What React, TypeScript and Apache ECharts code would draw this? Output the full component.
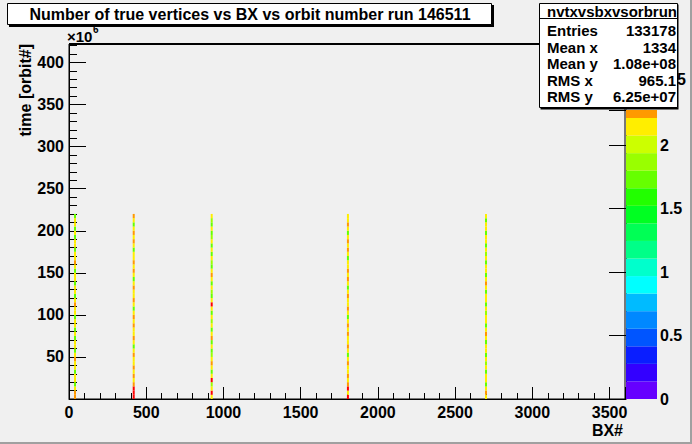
import React, { useEffect, useRef } from "react";
import * as echarts from "echarts";

// ---------- texts ----------
const titleText = "Number of true vertices vs BX vs orbit number run 146511";
const xTitle = "BX#";
const yTitle = "time [orbit#]";
const statsName = "nvtxvsbxvsorbrun";
const statsLabels = ["Entries", "Mean x", "Mean y", "RMS x", "RMS y"];
const statsValues = ["133178", "1334", "1.08e+08", "965.1", "6.25e+07"];

// ---------- axes ----------
const xMin = 0;
const xMax = 3600;
const xMajor = 500;
const xMinor = 100;
const yMin = 0;
const yMax = 422;
const yMajor = 50;
const yMinor = 10;
const zMax = 2.276;
const zMajor = 0.5;

// ---------- data ----------
const bxPositions = [39, 419, 924, 1806, 2700];
const cellHeight = 5; // orbit bin height (x10^6)
// colour code of each cell, bottom -> top, one string per BX line
const lineCodes = [
  "OOYGYYGYYOYGYYGYGYYGYYOYGYYGYYGYOYYGYYGYGYYG",
  "RRROYOYOYYOYGYOYYOYOYGYOYYOYGYOYOYYGYOYOYGYO",
  "YRYLRYGYOYLGYGOYGYLYGYRYGLYGYOYGLYGYGYLGYGLY",
  "RYROYOYYOYGYOYYOYOYGYOYYOYGYOYOYYGYOYOYGYOYY",
  "YOYGYYGYLYGYYGYOYGYYLYGYYGYOYGYYGYLYGYYGYYGY",
];
const codeValues: Record<string, number> = { G: 1.7, L: 1.9, Y: 2.1, O: 2.25, R: 2.4 };

// colour palette bands (bottom -> top), each zStep tall
const zStep = 0.1383;
const bandColors = [
  "#6600ff", "#3300ff", "#0a1eff", "#0055ff", "#0088ff", "#00bbff",
  "#00ffff", "#00ffcc", "#00ff88", "#00ff55", "#00ff22", "#22ff00",
  "#66ff00", "#99ff00", "#ccff00", "#ffee00", "#ff9900",
];
const overflowColor = "#ff0000";

const FONT = '"Liberation Sans", Arial, Helvetica, sans-serif';

function colorFor(v: number): string {
  if (v > zMax) return overflowColor;
  const i = Math.min(bandColors.length - 1, Math.max(0, Math.floor(v / zStep)));
  return bandColors[i];
}

const cellData: number[][] = [];
lineCodes.forEach((codes, li) => {
  for (let i = 0; i < codes.length; i++) {
    cellData.push([bxPositions[li], i * cellHeight, codeValues[codes[i]]]);
  }
});

const bandData: number[][] = bandColors.map((_, i) => [i * zStep, Math.min((i + 1) * zStep, zMax), i]);

const labelStyle = { color: "#000", fontWeight: "bold" as const, fontSize: 16, fontFamily: FONT };

function buildOption(): any {
  const statRows = [30, 47, 63, 80, 96];
  const graphic: any[] = [
    // canvas bevel
    { type: "rect", z: 20, shape: { x: 0, y: 442, width: 692, height: 2 }, style: { fill: "#a0a0a0" } },
    { type: "rect", z: 20, shape: { x: 690, y: 0, width: 2, height: 444 }, style: { fill: "#a0a0a0" } },
    // thick top frame line
    { type: "line", z: 5, shape: { x1: 69, y1: 44, x2: 540, y2: 44 }, style: { stroke: "#000", lineWidth: 2 } },
    // x10^6
    { type: "text", z: 5, x: 67, y: 36, style: { text: "\u00d710", align: "left", verticalAlign: "middle", fill: "#000", fontSize: 15, fontWeight: "bold", fontFamily: FONT } },
    { type: "text", z: 5, x: 93, y: 29, style: { text: "6", align: "left", verticalAlign: "middle", fill: "#000", fontSize: 10, fontWeight: "bold", fontFamily: FONT } },
    // axis titles
    { type: "text", z: 5, x: 25, y: 44, rotation: Math.PI / 2, style: { text: yTitle, align: "right", verticalAlign: "middle", fill: "#000", fontSize: 16, fontWeight: "bold", fontFamily: FONT } },
    { type: "text", z: 5, x: 623, y: 430, style: { text: xTitle, align: "right", verticalAlign: "middle", fill: "#000", fontSize: 16, fontWeight: "bold", fontFamily: FONT } },
    // partially hidden label behind stats box
    { type: "text", z: 9, x: 677, y: 79, style: { text: "5", align: "left", verticalAlign: "middle", fill: "#000", fontSize: 16, fontWeight: "bold", fontFamily: FONT } },
    // title box
    { type: "rect", z: 10, shape: { x: 9, y: 5, width: 485, height: 22 }, style: { fill: "#000" } },
    { type: "rect", z: 11, shape: { x: 7.5, y: 3.5, width: 484, height: 21 }, style: { fill: "#ffffff", stroke: "#000", lineWidth: 1 } },
    { type: "text", z: 12, x: 250, y: 14.5, style: { text: titleText, align: "center", verticalAlign: "middle", fill: "#000", fontSize: 16, fontWeight: "bold", fontFamily: FONT } },
    // stats box
    { type: "rect", z: 10, shape: { x: 540.5, y: 4.5, width: 138, height: 105 }, style: { fill: "#000" } },
    { type: "rect", z: 11, shape: { x: 539.5, y: 3.5, width: 138, height: 104 }, style: { fill: "#ffffff", stroke: "#000", lineWidth: 1 } },
    { type: "line", z: 12, shape: { x1: 539.5, y1: 18.5, x2: 677.5, y2: 18.5 }, style: { stroke: "#000", lineWidth: 1 } },
    { type: "text", z: 12, x: 612, y: 11, style: { text: statsName, align: "center", verticalAlign: "middle", fill: "#000", fontSize: 15, fontWeight: "bold", fontFamily: FONT } },
  ];
  statsLabels.forEach((lab, i) => {
    graphic.push({ type: "text", z: 12, x: 547, y: statRows[i], style: { text: lab, align: "left", verticalAlign: "middle", fill: "#000", fontSize: 15, fontWeight: "bold", fontFamily: FONT } });
    graphic.push({ type: "text", z: 12, x: 676, y: statRows[i], style: { text: statsValues[i], align: "right", verticalAlign: "middle", fill: "#000", fontSize: 15, fontWeight: "bold", fontFamily: FONT } });
  });

  return {
    animation: false,
    backgroundColor: "#f0f0f0",
    grid: [
      { left: 69, top: 44, width: 556, height: 355, show: true, borderColor: "#000", borderWidth: 1, backgroundColor: "transparent", containLabel: false },
      { left: 626, top: 110, width: 31, height: 289, show: false, containLabel: false },
    ],
    xAxis: [
      {
        type: "value", gridIndex: 0, min: xMin, max: xMax, interval: xMajor, position: "bottom",
        axisLine: { show: true, lineStyle: { color: "#000", width: 1 } },
        axisTick: { show: true, inside: true, length: 12, lineStyle: { color: "#000" } },
        splitLine: { show: false },
        axisLabel: { ...labelStyle, margin: 5, formatter: (v: number) => (v % xMajor === 0 ? String(v) : "") },
      },
      {
        type: "value", gridIndex: 0, min: xMin, max: xMax, interval: xMinor, position: "bottom",
        axisLine: { show: false },
        axisTick: { show: true, inside: true, length: 6, lineStyle: { color: "#000" } },
        splitLine: { show: false },
        axisLabel: { show: false },
      },
      { type: "value", gridIndex: 1, min: 0, max: 1, show: false },
    ],
    yAxis: [
      {
        type: "value", gridIndex: 0, min: yMin, max: yMax, interval: yMajor, position: "left",
        axisLine: { show: true, lineStyle: { color: "#000", width: 1 } },
        axisTick: { show: true, inside: true, length: 17, lineStyle: { color: "#000" } },
        splitLine: { show: false },
        axisLabel: { ...labelStyle, margin: 5, formatter: (v: number) => (v % yMajor === 0 && v > 0 ? String(v) : "") },
      },
      {
        type: "value", gridIndex: 0, min: yMin, max: yMax, interval: yMinor, position: "left",
        axisLine: { show: false },
        axisTick: { show: true, inside: true, length: 8, lineStyle: { color: "#000" } },
        splitLine: { show: false },
        axisLabel: { show: false },
      },
      {
        type: "value", gridIndex: 1, min: 0, max: zMax, interval: zMajor, position: "right",
        axisLine: { show: true, lineStyle: { color: "#000", width: 1 } },
        axisTick: { show: true, inside: true, length: 17, lineStyle: { color: "#000" } },
        splitLine: { show: false },
        axisLabel: {
          ...labelStyle, margin: 3,
          formatter: (v: number) => {
            const r = Math.round(v / zMajor);
            return Math.abs(v - r * zMajor) < 1e-6 ? String(r * zMajor) : "";
          },
        },
      },
    ],
    series: [
      {
        type: "custom", xAxisIndex: 0, yAxisIndex: 0, clip: true, z: 3,
        data: cellData,
        renderItem: (_p: any, api: any) => {
          const x = api.value(0);
          const y0 = api.value(1);
          const v = api.value(2);
          const a = api.coord([x, y0]);
          const b = api.coord([x, y0 + cellHeight]);
          return { type: "rect", shape: { x: a[0] - 1, y: b[1], width: 2, height: a[1] - b[1] }, style: { fill: colorFor(v) } };
        },
      },
      {
        type: "custom", xAxisIndex: 2, yAxisIndex: 2, clip: true, z: 2,
        data: bandData,
        renderItem: (_p: any, api: any) => {
          const lo = api.value(0);
          const hi = api.value(1);
          const i = api.value(2);
          const a = api.coord([0, lo]);
          const b = api.coord([1, hi]);
          return { type: "rect", shape: { x: a[0], y: b[1], width: b[0] - a[0], height: a[1] - b[1] }, style: { fill: bandColors[i] } };
        },
      },
    ],
    graphic,
  };
}

export default function App() {
  const ref = useRef<HTMLDivElement>(null);
  useEffect(() => {
    if (!ref.current) return;
    const chart = echarts.init(ref.current, null, { renderer: "svg" });
    chart.setOption(buildOption());
    return () => chart.dispose();
  }, []);
  return <div ref={ref} style={{ position: "fixed", left: 0, top: 0, width: 692, height: 444 }} />;
}
